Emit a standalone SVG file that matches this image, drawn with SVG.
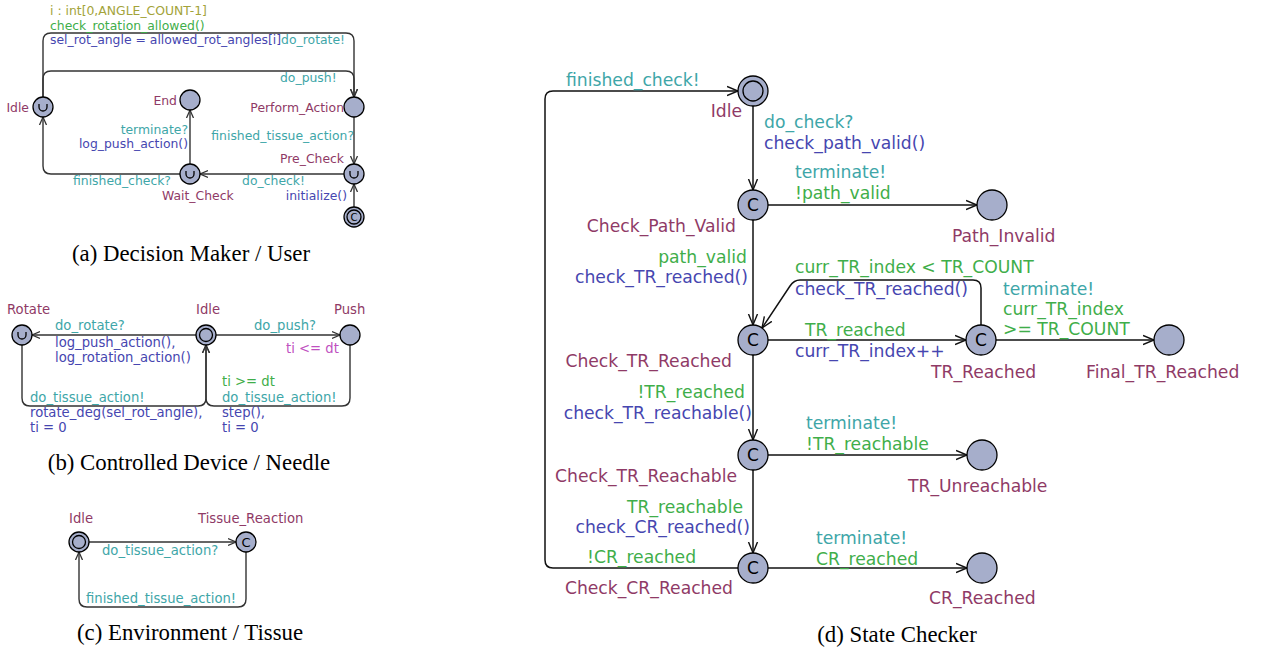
<svg xmlns="http://www.w3.org/2000/svg" width="1263" height="651" viewBox="0 0 1263 651">
<style>
text{font-family:"DejaVu Sans","Liberation Sans",sans-serif}
.s12{font-size:12.4px}
.s13{font-size:13.2px}
.s17{font-size:17.2px}
.nm{fill:#8f3a66}
.sy{fill:#3ea6a8}
.up{fill:#4646b0}
.gd{fill:#3fae4a}
.sel{fill:#a3a33a}
.inv{fill:#c050c0}
.cap{font-family:"Liberation Serif","Times New Roman",serif;font-size:22.8px;fill:#000}
.n{fill:#a6aecb;stroke:#000;stroke-width:1.3}
.ni{fill:none;stroke:#000;stroke-width:1.3}
.e{fill:none;stroke:#333;stroke-width:1.4}
.ed{fill:none;stroke:#111;stroke-width:1.5}
.ea{marker-end:url(#arr)}
.eb{marker-end:url(#arrB)}
.c{font-family:"DejaVu Sans",sans-serif;fill:#000;text-anchor:middle}
.u{fill:none;stroke:#000;stroke-width:1.3}
</style>
<defs>
<marker id="arr" markerUnits="userSpaceOnUse" markerWidth="10" markerHeight="10" refX="8" refY="4" orient="auto" viewBox="0 0 10 8">
<path d="M0,0.5 L8,4 L0,7.5" fill="none" stroke="#333" stroke-width="1.3"/>
</marker>
<marker id="arrB" markerUnits="userSpaceOnUse" markerWidth="13" markerHeight="12" refX="11" refY="5" orient="auto" viewBox="0 0 13 10">
<path d="M0,0.5 L11,5 L0,9.5" fill="none" stroke="#111" stroke-width="1.4"/>
</marker>
</defs>

<g id="connectors">
<!-- (a) -->
<path class="e ea" d="M43,97 L43,41 Q43,33 51,33 L346,33 Q354,33 354,41 L354,97"/>
<path class="e ea" d="M43,97 L43,79 Q43,71 51,71 L346,71 Q354,71 354,79 L354,97"/>
<path class="e ea" d="M354,117 L354,164"/>
<path class="e ea" d="M344,174 L200,174"/>
<path class="e ea" d="M190,164 L190,110"/>
<path class="e ea" d="M180,174 L51,174 Q43,174 43,166 L43,117"/>
<path class="e ea" d="M354,207 L354,184"/>
<!-- (b) -->
<path class="e ea" d="M196,335 L32,335"/>
<path class="e ea" d="M216,335 L340,335"/>
<path class="e ea" d="M22,345 L22,398 Q22,406 30,406 L198,406 Q206,406 206,398 L206,345"/>
<path class="e ea" d="M350,345 L350,398 Q350,406 342,406 L214,406 Q206,406 206,398 L206,345"/>
<!-- (c) -->
<path class="e ea" d="M89,542 L236,542"/>
<path class="e ea" d="M246,552 L246,599 Q246,607 238,607 L87,607 Q79,607 79,599 L79,552"/>
<!-- (d) -->
<path class="ed eb" d="M738,568 L553,568 Q545,568 545,560 L545,99 Q545,91 553,91 L738,91"/>
<path class="ed eb" d="M753,106 L753,190"/>
<path class="ed eb" d="M768,205 L977,205"/>
<path class="ed eb" d="M753,220 L753,325"/>
<path class="ed eb" d="M768,340 L966,340"/>
<path class="ed eb" d="M981,325 L981,288 Q981,280 973,280 L800,280 Q794,280 790,286 L762,328"/>
<path class="ed eb" d="M996,340 L1154,340"/>
<path class="ed eb" d="M753,355 L753,440"/>
<path class="ed eb" d="M768,455 L967,455"/>
<path class="ed eb" d="M753,470 L753,553"/>
<path class="ed eb" d="M768,568 L967,568"/>
</g>

<g id="labels-a" class="s12">
<text class="sel" x="50" y="15">i : int[0,ANGLE_COUNT-1]</text>
<text class="gd" x="50" y="30">check_rotation_allowed()</text>
<text class="up" x="50" y="44">sel_rot_angle = allowed_rot_angles[i]<tspan class="sy">do_rotate!</tspan></text>
<text class="sy" x="280" y="82">do_push!</text>
<text class="sy" x="354" y="140" text-anchor="end">finished_tissue_action?</text>
<text class="sy" x="305" y="185" text-anchor="end">do_check!</text>
<text class="sy" x="188" y="134" text-anchor="end">terminate?</text>
<text class="up" x="188" y="148" text-anchor="end">log_push_action()</text>
<text class="sy" x="73" y="185">finished_check?</text>
<text class="up" x="347" y="200" text-anchor="end">initialize()</text>
</g>

<g id="a-idle"><circle class="n" cx="43" cy="107" r="10"/><path class="u" d="M39,104 L39,107 A4,4 0 0 0 47,107 L47,104"/><text class="s12 nm" x="29" y="112" text-anchor="end">Idle</text></g>
<g id="a-end"><circle class="n" cx="190" cy="100" r="10"/><text class="s12 nm" x="177" y="105" text-anchor="end">End</text></g>
<g id="a-perform"><circle class="n" cx="354" cy="107" r="10"/><text class="s12 nm" x="344" y="112" text-anchor="end">Perform_Action</text></g>
<g id="a-precheck"><circle class="n" cx="354" cy="174" r="10"/><path class="u" d="M350,171 L350,174 A4,4 0 0 0 358,174 L358,171"/><text class="s12 nm" x="344" y="163" text-anchor="end">Pre_Check</text></g>
<g id="a-waitcheck"><circle class="n" cx="190" cy="174" r="10"/><path class="u" d="M186,171 L186,174 A4,4 0 0 0 194,174 L194,171"/><text class="s12 nm" x="162" y="200">Wait_Check</text></g>
<g id="a-init"><circle class="n" cx="354" cy="217" r="10"/><circle class="ni" cx="354" cy="217" r="7"/><text class="c" x="354" y="221" font-size="10">C</text></g>
<text class="cap" x="191" y="261" text-anchor="middle">(a) Decision Maker / User</text>

<g id="labels-b" class="s13">
<text class="sy" x="55" y="330">do_rotate?</text>
<text class="up" x="55" y="347">log_push_action(),</text>
<text class="up" x="55" y="362">log_rotation_action()</text>
<text class="sy" x="254" y="330">do_push?</text>
<text class="sy" x="30" y="402">do_tissue_action!</text>
<text class="up" x="30" y="417">rotate_deg(sel_rot_angle),</text>
<text class="up" x="30" y="432">ti = 0</text>
<text class="gd" x="222" y="386">ti &gt;= dt</text>
<text class="sy" x="222" y="402">do_tissue_action!</text>
<text class="up" x="222" y="417">step(),</text>
<text class="up" x="222" y="432">ti = 0</text>
</g>
<g id="b-rotate"><circle class="n" cx="22" cy="335" r="10"/><path class="u" d="M18,332 L18,335 A4,4 0 0 0 26,335 L26,332"/><text class="s13 nm" x="7" y="314">Rotate</text></g>
<g id="b-idle"><circle class="n" cx="206" cy="335" r="10"/><circle class="ni" cx="206" cy="335" r="6.5"/><text class="s13 nm" x="196" y="314">Idle</text></g>
<g id="b-push"><circle class="n" cx="350" cy="335" r="10"/><text class="s13 nm" x="334" y="314">Push</text><text class="s13 inv" x="286" y="353">ti &lt;= dt</text></g>
<text class="cap" x="189" y="470" text-anchor="middle">(b) Controlled Device / Needle</text>

<g id="labels-c" class="s13">
<text class="sy" x="102" y="555">do_tissue_action?</text>
<text class="sy" x="86" y="603">finished_tissue_action!</text>
</g>
<g id="c-idle"><circle class="n" cx="79" cy="542" r="10"/><circle class="ni" cx="79" cy="542" r="6.5"/><text class="s13 nm" x="69" y="523">Idle</text></g>
<g id="c-tissue"><circle class="n" cx="246" cy="542" r="10"/><text class="c" x="246" y="547" font-size="13">C</text><text class="s13 nm" x="198" y="523">Tissue_Reaction</text></g>
<text class="cap" x="190" y="640" text-anchor="middle">(c) Environment / Tissue</text>

<g id="labels-d" class="s17">
<text class="sy" x="566" y="86">finished_check!</text>
<text class="gd" x="587" y="563">!CR_reached</text>
<text class="sy" x="764" y="128">do_check?</text>
<text class="up" x="764" y="149">check_path_valid()</text>
<text class="sy" x="795" y="178">terminate!</text>
<text class="gd" x="795" y="199">!path_valid</text>
<text class="gd" x="747" y="263" text-anchor="end">path_valid</text>
<text class="up" x="748" y="283" text-anchor="end">check_TR_reached()</text>
<text class="gd" x="795" y="273">curr_TR_index &lt; TR_COUNT</text>
<text class="up" x="795" y="295">check_TR_reached()</text>
<text class="gd" x="805" y="336">TR_reached</text>
<text class="up" x="795" y="357">curr_TR_index++</text>
<text class="sy" x="1003" y="295">terminate!</text>
<text class="gd" x="1003" y="315">curr_TR_index</text>
<text class="gd" x="1003" y="335">&gt;= TR_COUNT</text>
<text class="gd" x="745" y="398" text-anchor="end">!TR_reached</text>
<text class="up" x="752" y="419" text-anchor="end">check_TR_reachable()</text>
<text class="sy" x="806" y="429">terminate!</text>
<text class="gd" x="806" y="450">!TR_reachable</text>
<text class="gd" x="743" y="513" text-anchor="end">TR_reachable</text>
<text class="up" x="750" y="533" text-anchor="end">check_CR_reached()</text>
<text class="sy" x="816" y="544">terminate!</text>
<text class="gd" x="816" y="565">CR_reached</text>
</g>
<g id="d-idle"><circle class="n" cx="753" cy="91" r="15"/><circle class="ni" cx="753" cy="91" r="10"/><text class="s17 nm" x="742" y="117" text-anchor="end">Idle</text></g>
<g id="d-checkpath"><circle class="n" cx="753" cy="205" r="15"/><text class="c" x="753" y="211" font-size="17">C</text><text class="s17 nm" x="736" y="232" text-anchor="end">Check_Path_Valid</text></g>
<g id="d-pathinvalid"><circle class="n" cx="992" cy="205" r="15"/><text class="s17 nm" x="952" y="242">Path_Invalid</text></g>
<g id="d-checktr"><circle class="n" cx="753" cy="340" r="15"/><text class="c" x="753" y="346" font-size="17">C</text><text class="s17 nm" x="732" y="367" text-anchor="end">Check_TR_Reached</text></g>
<g id="d-trreached"><circle class="n" cx="981" cy="340" r="15"/><text class="c" x="981" y="346" font-size="17">C</text><text class="s17 nm" x="931" y="378">TR_Reached</text></g>
<g id="d-final"><circle class="n" cx="1169" cy="340" r="15"/><text class="s17 nm" x="1086" y="378">Final_TR_Reached</text></g>
<g id="d-checkreachable"><circle class="n" cx="753" cy="455" r="15"/><text class="c" x="753" y="461" font-size="17">C</text><text class="s17 nm" x="737" y="482" text-anchor="end">Check_TR_Reachable</text></g>
<g id="d-unreachable"><circle class="n" cx="982" cy="455" r="15"/><text class="s17 nm" x="908" y="492">TR_Unreachable</text></g>
<g id="d-checkcr"><circle class="n" cx="753" cy="568" r="15"/><text class="c" x="753" y="574" font-size="17">C</text><text class="s17 nm" x="733" y="594" text-anchor="end">Check_CR_Reached</text></g>
<g id="d-crreached"><circle class="n" cx="982" cy="568" r="15"/><text class="s17 nm" x="929" y="604">CR_Reached</text></g>
<text class="cap" x="897" y="642" text-anchor="middle">(d) State Checker</text>
</svg>
